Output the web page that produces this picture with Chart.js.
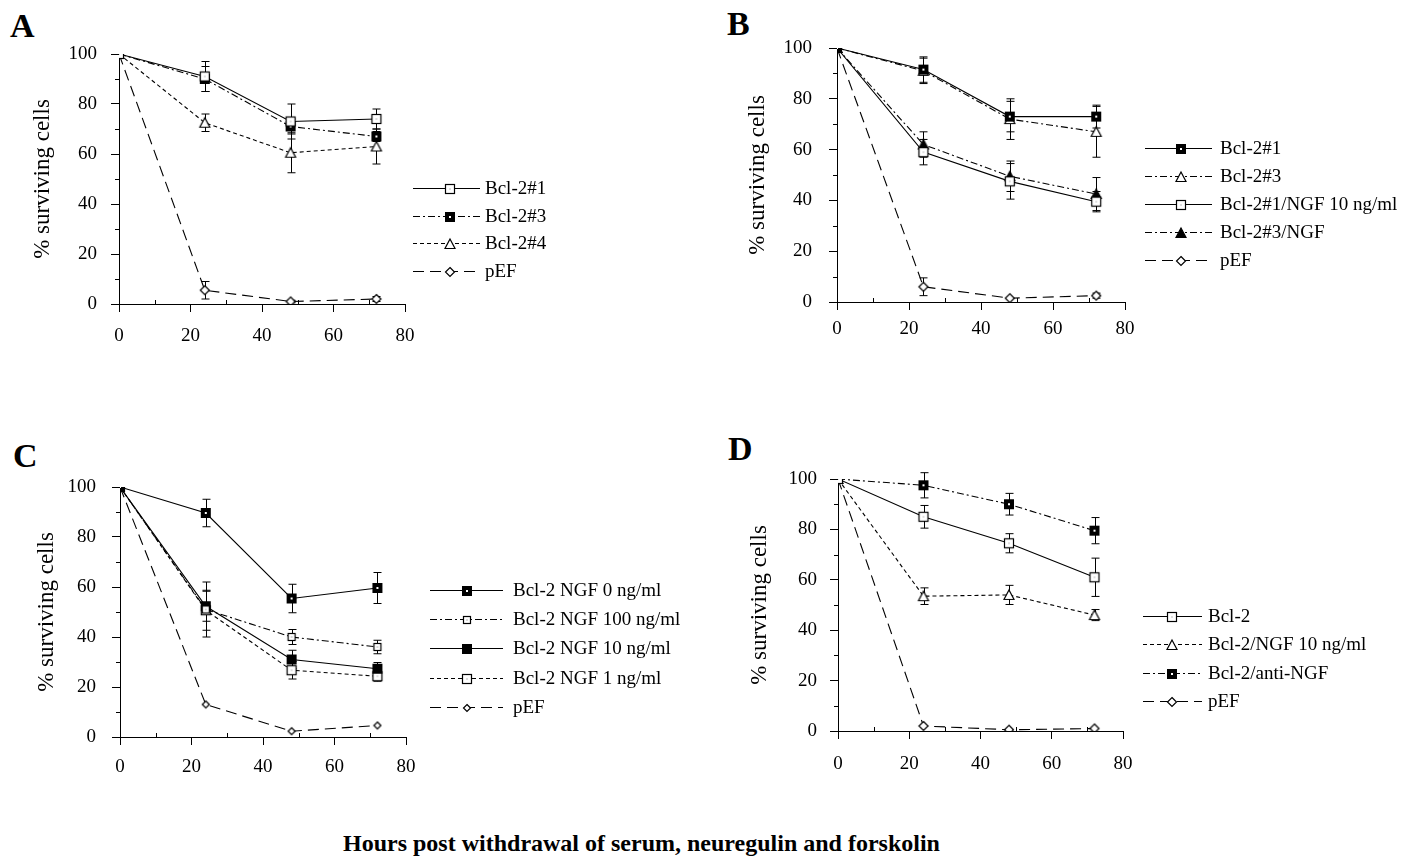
<!DOCTYPE html>
<html>
<head>
<meta charset="utf-8">
<script src="https://cdn.jsdelivr.net/npm/chart.js@4.4.1/dist/chart.umd.min.js"></script>
<style>
body { margin: 0; background: #fff; width: 1405px; height: 859px; position: relative; overflow: hidden;
       font-family: "Liberation Serif", "Times New Roman", serif; color: #000; }
canvas { position: absolute; }
.lab { position: absolute; font-weight: bold; font-size: 34px; line-height: 34px; }
#xtitle { position: absolute; left: 343px; top: 830px; font-weight: bold; font-size: 24px; line-height: 26px; white-space: nowrap; }
</style>
</head>
<body>
<div class="lab" style="left:10px;top:9px">A</div>
<div class="lab" style="left:727px;top:7px">B</div>
<div class="lab" style="left:13px;top:439px">C</div>
<div class="lab" style="left:728px;top:432px">D</div>
<canvas id="chartA" width="700" height="420" style="left:0;top:0"></canvas>
<canvas id="chartB" width="705" height="420" style="left:700px;top:0"></canvas>
<canvas id="chartC" width="700" height="400" style="left:0;top:420px"></canvas>
<canvas id="chartD" width="705" height="400" style="left:700px;top:420px"></canvas>
<div id="xtitle">Hours post withdrawal of serum, neuregulin and forskolin</div>
<script>
// sampling times (hours)
const hours = [0, 24, 48, 72];

// panel A
const aLabels = ['Bcl-2#1', 'Bcl-2#3', 'Bcl-2#4', 'pEF'];
const aBcl1 = [100, 91, 73, 74];      const aBcl1Err = [0, 6, 7, 4];
const aBcl3 = [100, 90, 71, 67];      const aBcl3Err = [0, 5, 3, 2];
const aBcl4 = [100, 72.5, 60.5, 63];  const aBcl4Err = [0, 3.5, 8, 7];
const aPef  = [100, 5.5, 1, 2];       const aPefErr  = [0, 3.5, 0.5, 1];

// panel B
const bLabels = ['Bcl-2#1', 'Bcl-2#3', 'Bcl-2#1/NGF 10 ng/ml', 'Bcl-2#3/NGF', 'pEF'];
const bBcl1 = [100, 91.5, 73, 73];    const bBcl1Err = [0, 5, 6, 4.5];
const bBcl3 = [100, 91, 72, 67];      const bBcl3Err = [0, 5, 8, 10];
const bNgf1 = [100, 59, 47.5, 39.5];  const bNgf1Err = [0, 5, 7, 4];
const bNgf3 = [100, 62, 49.5, 42.5];  const bNgf3Err = [0, 5, 6, 6.5];
const bPef  = [100, 6, 1.5, 2.5];     const bPefErr  = [0, 3.5, 0, 1];

// panel C
const cLabels = ['Bcl-2 NGF 0 ng/ml', 'Bcl-2 NGF 100 ng/ml', 'Bcl-2 NGF 10 ng/ml', 'Bcl-2 NGF 1 ng/ml', 'pEF'];
const cNgf0   = [100, 89.6, 55.4, 59.6];  const cNgf0Err   = [0, 5.5, 5.7, 6.2];
const cNgf100 = [100, 51, 40, 36];        const cNgf100Err = [0, 11, 3, 2.7];
const cNgf10  = [100, 52.3, 31, 27.3];    const cNgf10Err  = [0, 6, 3.7, 2.5];
const cNgf1   = [100, 50.7, 26.7, 24.3];  const cNgf1Err   = [0, 8, 3.5, 2];
const cPef    = [100, 13, 2.3, 4.6];

// panel D
const dLabels = ['Bcl-2', 'Bcl-2/NGF 10 ng/ml', 'Bcl-2/anti-NGF', 'pEF'];
const dBcl  = [100, 85, 74.5, 61];    const dBclErr  = [0, 4.5, 3.8, 7.6];
const dNgf  = [100, 53.5, 54, 46];    const dNgfErr  = [0, 3.3, 3.8, 2.2];
const dAnti = [100, 97.5, 90, 79.5];  const dAntiErr = [0, 5, 4.3, 5.2];
const dPef  = [100, 2, 0.5, 1];

// minor tick positions (major ticks every 20)
const xMinor = [10, 30, 50, 70];
const yMinor = [10, 30, 50, 70, 90];

Chart.defaults.font.family = '"Liberation Serif", "Times New Roman", serif';
Chart.defaults.font.size = 19;
Chart.defaults.color = '#000';

// line styles
const SOLID = [];
const DASHDOT = [7, 3, 2, 3];
const DASHED = [4, 3];
const LONGDASH = [11, 6];

// little marker bitmaps
function mk(s, draw) {
    const c = document.createElement('canvas');
    c.width = c.height = s;
    const g = c.getContext('2d');
    g.lineWidth = 1.2;
    g.strokeStyle = '#000';
    draw(g, s / 2);
    return c;
}
const sqOpen = mk(14, g => { g.fillStyle = '#fff'; g.fillRect(2.5, 2.5, 9, 9); g.strokeRect(2.5, 2.5, 9, 9); g.fillStyle = '#777'; g.fillRect(6.5, 6.5, 1, 1); });
const sqBlack = mk(14, g => { g.fillStyle = '#000'; g.fillRect(2, 2, 10, 10); });
const sqDot = mk(14, g => { g.fillStyle = '#000'; g.fillRect(2, 2, 10, 10); g.fillStyle = '#fff'; g.fillRect(6, 6, 2, 2); });
const sqSmall = mk(12, g => { g.fillStyle = '#fff'; g.fillRect(2.5, 2.5, 7, 7); g.strokeRect(2.5, 2.5, 7, 7); g.fillStyle = '#666'; g.fillRect(5.5, 5.5, 1, 1); });
const triOpen = mk(14, g => { g.beginPath(); g.moveTo(7, 2); g.lineTo(12, 11.5); g.lineTo(2, 11.5); g.closePath(); g.fillStyle = '#fff'; g.fill(); g.stroke(); });
const triBlack = mk(14, g => { g.beginPath(); g.moveTo(7, 2); g.lineTo(12, 11.5); g.lineTo(2, 11.5); g.closePath(); g.fillStyle = '#000'; g.fill(); g.stroke(); });
const diaOpen = mk(14, g => { g.beginPath(); g.moveTo(7, 2.5); g.lineTo(11.5, 7); g.lineTo(7, 11.5); g.lineTo(2.5, 7); g.closePath(); g.fillStyle = '#fff'; g.fill(); g.stroke(); });
const diaSmall = mk(10, g => { g.beginPath(); g.moveTo(5, 1.5); g.lineTo(8.5, 5); g.lineTo(5, 8.5); g.lineTo(1.5, 5); g.closePath(); g.fillStyle = '#fff'; g.fill(); g.stroke(); });

// short minor ticks: x ones point up into the plot, y ones point left
const minorTicks = {
    id: 'minorTicks',
    afterDraw(chart) {
        const ctx = chart.ctx;
        const xs = chart.scales.x, ys = chart.scales.y;
        ctx.save();
        ctx.strokeStyle = '#000';
        ctx.lineWidth = 1;
        ctx.beginPath();
        xMinor.forEach(v => {
            const x = Math.round(xs.getPixelForValue(v)) + 0.5;
            ctx.moveTo(x, ys.bottom); ctx.lineTo(x, ys.bottom - 4);
        });
        yMinor.forEach(v => {
            const y = Math.round(ys.getPixelForValue(v)) + 0.5;
            ctx.moveTo(xs.left, y); ctx.lineTo(xs.left - 4, y);
        });
        ctx.stroke();
        ctx.restore();
    }
};

// vertical error bars, drawn under the markers
const errorBars = {
    id: 'errorBars',
    beforeDatasetsDraw(chart) {
        const ctx = chart.ctx;
        const xs = chart.scales.x, ys = chart.scales.y;
        ctx.save();
        ctx.strokeStyle = '#000';
        ctx.lineWidth = 1;
        chart.data.datasets.forEach(ds => {
            if (!ds.err) return;
            ds.data.forEach((p, j) => {
                const e = ds.err[j];
                if (!e) return;
                const x = Math.round(xs.getPixelForValue(p.x)) + 0.5;
                const y1 = ys.getPixelForValue(p.y - e), y2 = ys.getPixelForValue(p.y + e);
                ctx.beginPath();
                ctx.moveTo(x, y1); ctx.lineTo(x, y2);
                ctx.moveTo(x - 4, y1); ctx.lineTo(x + 4, y1);
                ctx.moveTo(x - 4, y2); ctx.lineTo(x + 4, y2);
                ctx.stroke();
            });
        });
        ctx.restore();
    }
};

// legend to the right: line sample + marker + label
const sideLegend = {
    id: 'sideLegend',
    afterDraw(chart, args, o) {
        const ctx = chart.ctx;
        ctx.save();
        chart.data.datasets.forEach((ds, i) => {
            const y = Math.round(o.rows[i]) + 0.5;
            ctx.strokeStyle = '#000';
            ctx.lineWidth = 1.1;
            ctx.setLineDash(ds.borderDash);
            ctx.beginPath();
            ctx.moveTo(o.x0, y);
            ctx.lineTo(o.x1, y);
            ctx.stroke();
            ctx.setLineDash([]);
            const m = ds.pointStyle;
            ctx.drawImage(m, Math.round(o.mx - m.width / 2), Math.round(y - m.height / 2));
            ctx.fillStyle = '#000';
            ctx.font = '19px "Liberation Serif", serif';
            ctx.textBaseline = 'middle';
            ctx.fillText(ds.label, o.tx, y + 1);
        });
        ctx.restore();
    }
};

function series(label, values, err, dash, mark) {
    return {
        label: label,
        data: hours.map((h, i) => ({ x: h, y: values[i] })),
        err: err,
        borderColor: '#000',
        borderWidth: 1.1,
        borderDash: dash,
        pointStyle: mark,
        pointRadius: 6,
        backgroundColor: '#000',
        fill: false,
        tension: 0
    };
}

function panel(id, cfg, datasets) {
    const gridOpts = { display: true, drawOnChartArea: false, drawTicks: true, tickLength: 8, color: '#000', lineWidth: 1 };
    const borderOpts = { display: true, color: '#000', width: 1 };
    return new Chart(document.getElementById(id), {
        type: 'line',
        data: { datasets: datasets },
        options: {
            responsive: false,
            animation: false,
            devicePixelRatio: 1,
            layout: { padding: { left: 0, top: cfg.top, right: cfg.right, bottom: 0 } },
            plugins: {
                legend: { display: false },
                tooltip: { enabled: false },
                sideLegend: cfg.legend
            },
            scales: {
                x: {
                    type: 'linear',
                    min: 0,
                    max: 80,
                    afterFit: s => { s.height = cfg.xh; },
                    ticks: { stepSize: 20, autoSkip: false, maxRotation: 0, padding: cfg.xpad },
                    grid: gridOpts,
                    border: borderOpts
                },
                y: {
                    min: 0,
                    max: 100,
                    afterFit: s => { s.width = cfg.yw; },
                    ticks: { stepSize: 20, autoSkip: false, padding: cfg.ypad },
                    title: {
                        display: true,
                        text: '% surviving cells',
                        font: { size: 23 },
                        padding: { top: cfg.tpad, bottom: 0 }
                    },
                    grid: gridOpts,
                    border: borderOpts
                }
            }
        },
        plugins: [errorBars, minorTicks, sideLegend]
    });
}

panel('chartA', {
    top: 54, right: 295, xh: 116, yw: 119, xpad: 13, ypad: 14, tpad: 29,
    legend: { rows: [188, 216, 243, 271], x0: 413, x1: 480, mx: 450, tx: 485 }
}, [
    series(aLabels[0], aBcl1, aBcl1Err, SOLID, sqOpen),
    series(aLabels[1], aBcl3, aBcl3Err, DASHDOT, sqDot),
    series(aLabels[2], aBcl4, aBcl4Err, DASHED, triOpen),
    series(aLabels[3], aPef, aPefErr, LONGDASH, diaOpen)
]);

panel('chartB', {
    top: 48, right: 280, xh: 118, yw: 137, xpad: 8, ypad: 17, tpad: 44,
    legend: { rows: [148, 176, 204, 232, 260], x0: 445, x1: 512, mx: 481, tx: 520 }
}, [
    series(bLabels[0], bBcl1, bBcl1Err, SOLID, sqDot),
    series(bLabels[1], bBcl3, bBcl3Err, DASHDOT, triOpen),
    series(bLabels[2], bNgf1, bNgf1Err, SOLID, sqOpen),
    series(bLabels[3], bNgf3, bNgf3Err, DASHDOT, triBlack),
    series(bLabels[4], bPef, bPefErr, LONGDASH, diaOpen)
]);

panel('chartC', {
    top: 67, right: 294, xh: 83, yw: 120, xpad: 11, ypad: 16, tpad: 33,
    legend: { rows: [170, 199, 228, 258, 287], x0: 430, x1: 503, mx: 467, tx: 513 }
}, [
    series(cLabels[0], cNgf0, cNgf0Err, SOLID, sqDot),
    series(cLabels[1], cNgf100, cNgf100Err, DASHDOT, sqSmall),
    series(cLabels[2], cNgf10, cNgf10Err, SOLID, sqBlack),
    series(cLabels[3], cNgf1, cNgf1Err, DASHED, sqOpen),
    series(cLabels[4], cPef, null, LONGDASH, diaSmall)
]);

panel('chartD', {
    top: 59, right: 282, xh: 89, yw: 138, xpad: 14, ypad: 13, tpad: 46,
    legend: { rows: [196, 224, 253, 281], x0: 443, x1: 502, mx: 472, tx: 508 }
}, [
    series(dLabels[0], dBcl, dBclErr, SOLID, sqOpen),
    series(dLabels[1], dNgf, dNgfErr, DASHED, triOpen),
    series(dLabels[2], dAnti, dAntiErr, DASHDOT, sqDot),
    series(dLabels[3], dPef, null, LONGDASH, diaOpen)
]);
</script>
</body>
</html>
